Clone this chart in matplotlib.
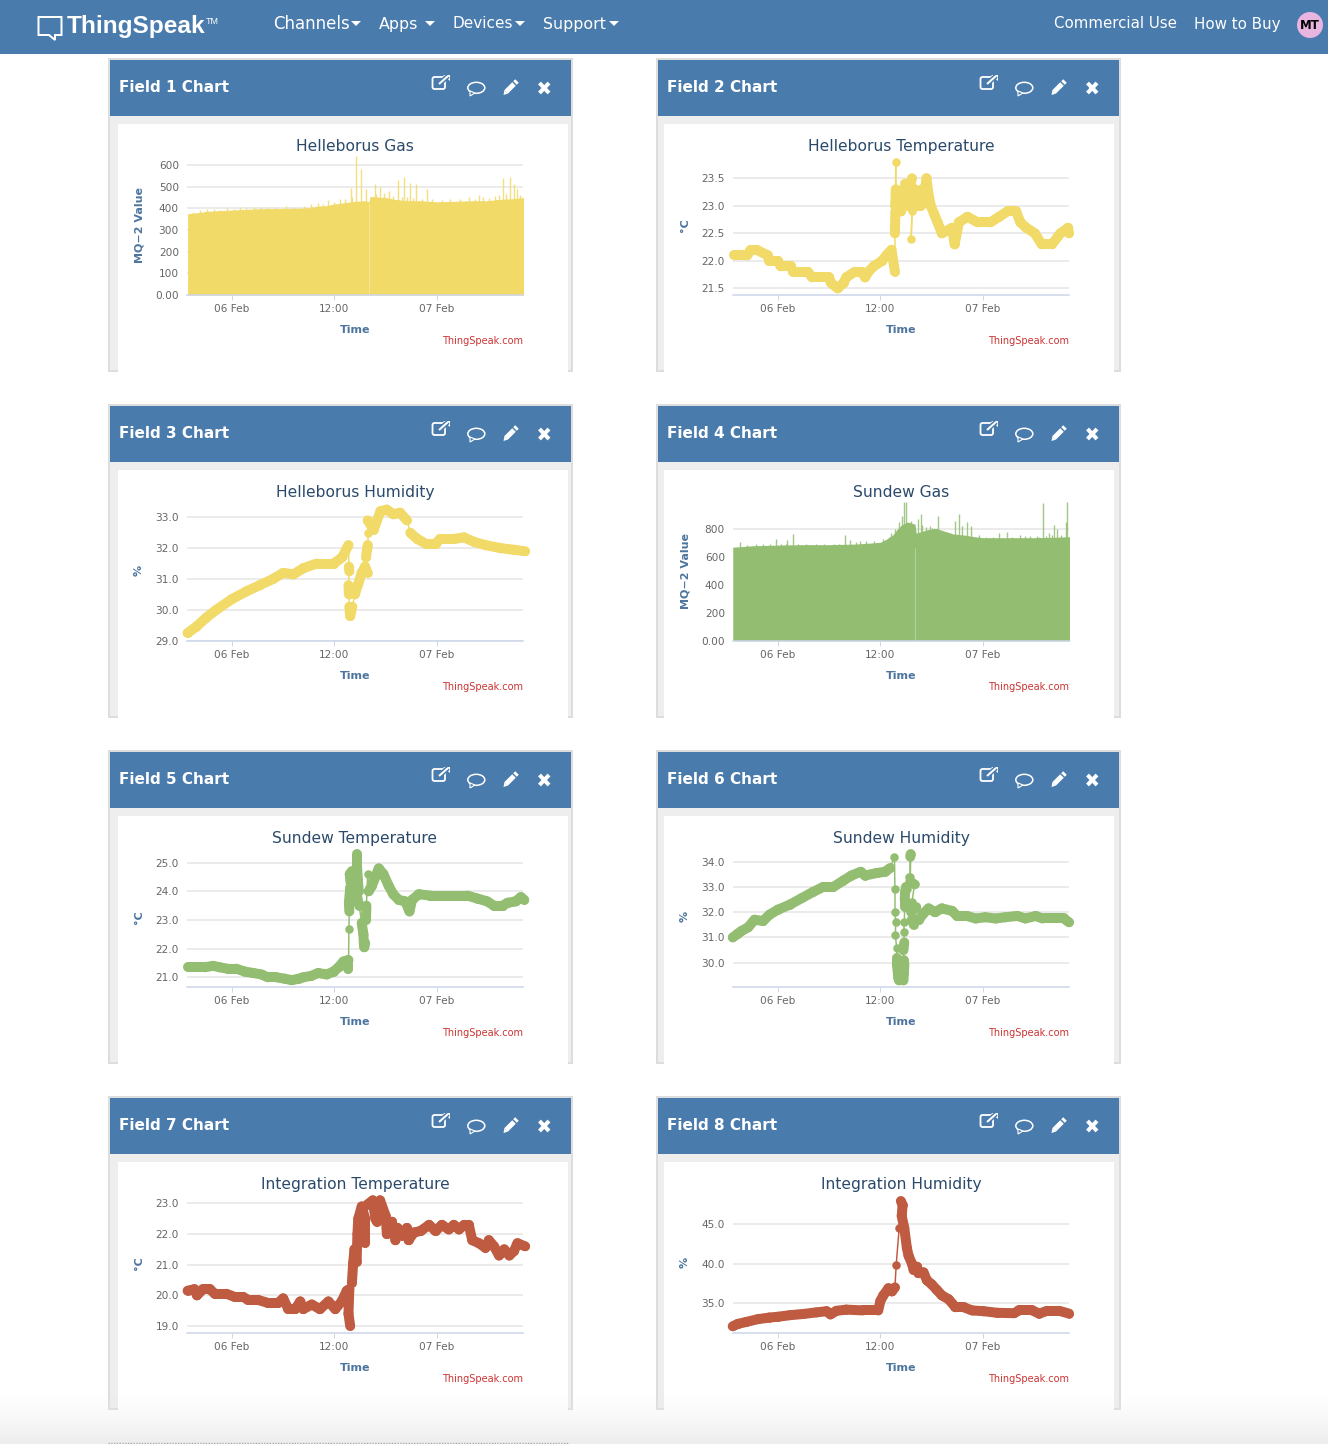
import numpy as np
import matplotlib
matplotlib.use('Agg')
import matplotlib.pyplot as plt
from matplotlib.collections import LineCollection
from matplotlib.patches import Rectangle, Ellipse, Polygon, Circle, FancyBboxPatch

# hours are counted from 06 Feb 00:00
tick_hours = [0, 12, 24]
tick_names = ['06 Feb', '12:00', '07 Feb']

# Field 1 - Helleborus Gas
f1_hours = [-5.2, -4, -3, -2, -1, 1, 3, 5, 7, 8, 9, 10, 11, 12, 13, 14, 14.5, 15.5, 16.05, 16.2, 17, 18, 19, 20, 21, 22, 24, 26, 28, 30, 31, 33, 34.3]
f1_vals = [375, 380, 386, 388, 390, 394, 398, 399, 400, 401, 403, 410, 412, 420, 425, 430, 432, 435, 430, 455, 452, 450, 442, 437, 435, 435, 430, 432, 435, 435, 440, 445, 450]
f1_spike_hours = [14.5, 15.1, 13.9, 15.7, 16.7, 17.4, 18.4, 19.5, 20.1, 20.9, 21.6, 22.9, 29, 31.7, 32.6, 33, 33.4,
                  -4.6, -3.7, -2.9, -2.1, -1.4, -0.6, 0.2, 0.9, 1.7, 2.6, 3.4, 4.2, 5.1, 6.3, 7.2, 8.4, 9.3, 10.1, 10.7, 11.2, 11.9, 12.6, 13.3, 14.1,
                  16.9, 17.8, 18.9, 19.9, 20.5, 21.2, 22.3, 23.4, 24.6, 25.6, 26.7, 27.8, 28.5, 29.4, 30.1, 30.8, 31.3, 32.1, 33.7, 34.1]
f1_spike_vals = [640, 580, 495, 490, 510, 500, 480, 530, 545, 515, 510, 490, 460, 540, 545, 510, 490,
                 385, 392, 395, 398, 392, 400, 398, 405, 400, 408, 405, 406, 408, 410, 406, 412, 418, 425, 418, 440, 428, 445, 442, 450,
                 465, 470, 458, 452, 450, 448, 445, 445, 440, 445, 442, 452, 445, 450, 448, 455, 460, 465, 462, 455]

# Field 2 - Helleborus Temperature
f2_hours = [-5.2, -3.6, -3.2, -2.5, -1.2, -1, 0, 0.3, 1.5, 1.8, 3.5, 4, 6, 6.2, 7, 7.7, 8, 9, 9.8, 10.2, 10.6, 11.2, 12.2, 12.7, 13.3, 13.7, 13.7, 13.75, 13.8, 13.8, 13.75, 14, 14.2, 14.4, 14.7, 14.9, 15, 15.2, 15.4, 15.7, 15.7, 15.6, 15.8, 16, 16.3, 16.5, 16.7, 16.9, 17.1, 17.4, 17.6, 17.9, 18.3, 18.7, 19.2, 20.4, 20.7, 21.2, 22.2, 23.4, 24.9, 25.9, 26.9, 27.9, 28.4, 29.1, 30.1, 30.9, 32.1, 33.1, 34, 34.1]
f2_vals = [22.1, 22.1, 22.2, 22.2, 22.1, 22.0, 22.0, 21.9, 21.9, 21.8, 21.8, 21.7, 21.7, 21.6, 21.5, 21.6, 21.7, 21.8, 21.8, 21.7, 21.8, 21.9, 22.0, 22.1, 22.2, 21.8, 22.5, 22.9, 23.8, 23.3, 23.0, 23.2, 23.0, 22.9, 23.2, 23.4, 23.1, 23.0, 23.3, 23.5, 22.9, 22.4, 23.1, 23.3, 23.0, 23.2, 23.0, 23.3, 23.1, 23.5, 23.25, 23.0, 22.85, 22.7, 22.5, 22.6, 22.3, 22.7, 22.8, 22.7, 22.7, 22.8, 22.9, 22.9, 22.7, 22.6, 22.5, 22.3, 22.3, 22.5, 22.6, 22.5]

# Field 3 - Helleborus Humidity
f3_hours = [-5.2, -4.2, -3, -1.85, 0, 1.7, 3.25, 4.8, 6, 7.2, 8.35, 9.9, 11.9, 12.9, 13.65, 13.7, 13.75, 13.65, 13.7, 13.75, 13.85, 14.1, 14.4, 14.8, 15.2, 15.6, 15.9, 15.7, 15.85, 15.9, 15.9, 15.9, 16.6, 17.4, 18.15, 18.9, 19.7, 20.5, 20.9, 21.7, 22.7, 23.85, 24.4, 26, 27.2, 28.4, 29.7, 31.5, 33, 34.35]
f3_vals = [29.25, 29.45, 29.75, 30.0, 30.35, 30.6, 30.8, 31.0, 31.2, 31.15, 31.35, 31.5, 31.5, 31.7, 32.1, 31.4, 31.25, 30.8, 30.5, 30.1, 29.8, 30.1, 30.5, 30.85, 31.2, 31.4, 31.2, 31.7, 32.0, 32.1, 32.5, 32.9, 32.6, 33.2, 33.25, 33.1, 33.15, 32.9, 32.5, 32.3, 32.15, 32.15, 32.3, 32.3, 32.35, 32.2, 32.1, 32.0, 31.95, 31.9]

# Field 4 - Sundew Gas
f4_hours = [-5.3, -4, -3, -1, 0, 3, 6, 9, 11, 12, 12.8, 13.5, 14, 14.5, 15.2, 16.05, 16.2, 17.5, 18.5, 19.5, 20.5, 22, 23, 24, 26, 28, 30, 32, 34.25]
f4_vals = [670, 675, 680, 683, 685, 688, 688, 692, 700, 705, 730, 760, 800, 830, 850, 835, 770, 795, 805, 785, 765, 755, 745, 738, 738, 738, 738, 740, 745]
f4_spike_hours = [-4.5, -0.2, 1.1, 1.8, 7.8, 8.4, 14.5, 14.8, 15, 13.7, 16.7, 16.4, 17.8, 18.8, 20.8, 21.2, 21.6, 22.2, 22.6, 25.9, 26.8, 31.1, 31.8, 32.4, 32.7, 33.7, 33.9,
                  -3.6, -2.6, -1.7, -0.9, 0.4, 0.9, 2.4, 3.3, 4.4, 5.4, 6.6, 7.1, 9.1, 9.6, 10.3, 11.2, 12.3, 13, 13.3, 14.2, 15.6,
                  16.9, 17.3, 18.1, 19, 20, 20.2, 23.5, 24.4, 25.2, 27.4, 28.3, 28.9, 29.5, 30.3, 30.6, 31.4, 32.1, 33.2]
f4_spike_vals = [710, 730, 720, 765, 755, 720, 890, 990, 990, 800, 910, 870, 820, 895, 855, 905, 825, 850, 820, 770, 780, 985, 775, 830, 800, 850, 990,
                 688, 690, 692, 690, 692, 693, 695, 692, 693, 695, 694, 696, 705, 712, 712, 716, 728, 745, 775, 850, 860,
                 830, 815, 810, 780, 775, 770, 755, 742, 744, 745, 755, 750, 750, 752, 745, 752, 760, 755]

# Field 5 - Sundew Temperature
f5_hours = [-5.2, -4.2, -3.2, -2.2, -1.45, -0.5, 0.5, 1.5, 2.5, 3.45, 4.2, 5.2, 6.2, 7, 7.8, 8.35, 9.3, 10.1, 11.1, 11.9, 12.5, 13.05, 13.65, 13.65, 13.7, 13.75, 13.7, 13.85, 13.85, 13.9, 13.8, 14.05, 14.4, 14.65, 14.65, 14.75, 14.85, 14.6, 14.9, 15.2, 15.4, 15.45, 15.5, 15.6, 15.7, 15.75, 15.9, 16, 16.4, 16.8, 17.2, 17.75, 18.35, 18.9, 19.55, 20.3, 20.8, 21.1, 21.9, 23.25, 24.45, 26, 27.6, 28.75, 29.9, 30.7, 31.7, 32.3, 33.25, 33.85, 34.25]
f5_vals = [21.35, 21.35, 21.35, 21.4, 21.35, 21.3, 21.3, 21.2, 21.15, 21.1, 21.0, 21.0, 20.95, 20.9, 20.95, 21.0, 21.05, 21.15, 21.1, 21.2, 21.35, 21.55, 21.6, 21.3, 22.7, 23.3, 23.6, 24.1, 23.7, 24.3, 24.6, 24.7, 24.6, 25.3, 24.9, 24.4, 24.0, 23.9, 23.5, 22.9, 22.5, 22.2, 22.05, 22.2, 23.0, 23.5, 24.6, 24.0, 24.2, 24.5, 24.8, 24.6, 24.2, 23.9, 23.7, 23.65, 23.3, 23.7, 23.9, 23.85, 23.85, 23.85, 23.85, 23.75, 23.65, 23.5, 23.5, 23.6, 23.65, 23.8, 23.7]

# Field 6 - Sundew Humidity
f6_hours = [-5.3, -4.7, -4.3, -3.5, -2.75, -1.75, -1, 0, 1.4, 2.75, 4.1, 5.3, 6.5, 7.65, 8.6, 9.7, 10.2, 11.55, 12.55, 13.15, 13.65, 13.7, 13.7, 13.8, 13.75, 13.9, 13.95, 13.95, 14.05, 14.1, 14.2, 14.3, 14.7, 14.75, 14.8, 14.75, 14.7, 14.8, 14.8, 14.8, 14.85, 14.85, 14.9, 15, 15.35, 15.15, 15.5, 15.5, 15.55, 15.5, 16, 15.7, 15.6, 16.2, 15.9, 15.7, 16.5, 17.05, 17.65, 18.4, 19.2, 20.4, 21, 22.15, 23.15, 24.3, 25.5, 26.65, 28.05, 29, 30.2, 31, 32.35, 33.5, 34.1]
f6_vals = [31.0, 31.15, 31.25, 31.4, 31.7, 31.65, 31.9, 32.1, 32.3, 32.55, 32.8, 33.0, 33.0, 33.25, 33.45, 33.6, 33.45, 33.55, 33.6, 33.75, 34.2, 32.9, 32.0, 31.6, 31.1, 30.6, 30.2, 29.9, 29.6, 29.4, 29.3, 29.3, 29.3, 29.6, 29.9, 30.1, 30.5, 30.8, 31.2, 31.6, 32.2, 32.5, 32.8, 33.0, 33.4, 32.9, 33.4, 34.2, 34.3, 33.2, 33.1, 32.4, 32.0, 32.2, 31.5, 31.7, 31.7, 31.95, 32.15, 32.0, 32.15, 32.05, 31.85, 31.85, 31.75, 31.8, 31.75, 31.8, 31.85, 31.75, 31.85, 31.75, 31.75, 31.75, 31.6]

# Field 7 - Integration Temperature
f7_hours = [-5.2, -4.4, -4.1, -3.4, -2.6, -2, -0.65, 0.3, 1.3, 1.9, 3.05, 4.25, 5.4, 6, 6.6, 7.4, 8, 8.35, 9.35, 10.3, 11.3, 12.1, 12.85, 13.45, 13.75, 13.65, 13.85, 14.05, 14.2, 14.35, 14.6, 14.7, 14.8, 15.2, 15.6, 15.6, 15.8, 16.5, 16.8, 17, 17.35, 18, 18.15, 18.75, 19.15, 19.4, 19.9, 20.5, 20.7, 21.3, 22.1, 23.1, 23.85, 24.6, 25.4, 26, 26.6, 27.2, 27.75, 28.15, 28.95, 29.7, 30.1, 30.7, 31.3, 31.9, 32.5, 33.05, 33.45, 34.35]
f7_vals = [20.15, 20.2, 20.0, 20.2, 20.2, 20.05, 20.05, 19.95, 19.95, 19.85, 19.85, 19.75, 19.75, 19.9, 19.55, 19.55, 19.8, 19.55, 19.7, 19.55, 19.8, 19.55, 19.8, 20.15, 20.2, 19.4, 19.0, 20.4, 21.05, 21.5, 21.1, 22.0, 22.5, 22.9, 22.5, 21.7, 22.95, 23.1, 22.5, 22.4, 23.1, 22.6, 22.0, 22.4, 21.8, 22.2, 21.95, 22.2, 21.8, 22.05, 22.1, 22.3, 22.1, 22.3, 22.15, 22.3, 22.15, 22.3, 22.3, 21.8, 21.7, 21.55, 21.8, 21.6, 21.3, 21.5, 21.3, 21.45, 21.7, 21.6]

# Field 8 - Integration Humidity
f8_hours = [-5.3, -4.7, -3.7, -2.35, -1, 0, 1.4, 2.95, 4.5, 5.7, 6.15, 6.85, 8, 9.95, 11.75, 12, 12.35, 12.95, 13.35, 13.7, 13.85, 14.2, 14.4, 14.6, 14.5, 14.8, 15.1, 15.3, 15.7, 15.9, 16.3, 16.45, 17.05, 17.45, 18, 18.6, 19.2, 20, 20.8, 21.75, 22.75, 24.1, 25.7, 27.65, 28.25, 29.8, 30.6, 31.55, 32.95, 34.1]
f8_vals = [32.1, 32.4, 32.65, 33.0, 33.2, 33.3, 33.5, 33.65, 33.85, 34.0, 33.6, 34.05, 34.2, 34.1, 34.1, 35.3, 36.0, 36.9, 36.5, 37.0, 39.8, 44.5, 47.9, 47.4, 46.0, 44.5, 42.0, 41.0, 40.0, 39.2, 39.6, 38.8, 38.9, 37.9, 37.4, 36.7, 36.0, 35.5, 34.5, 34.5, 34.1, 34.0, 33.8, 33.75, 34.1, 34.1, 33.7, 34.05, 34.05, 33.7]

gas_gap_hour = 16.1

YELLOW = '#f1da68'
GREEN = '#93be71'
RED = '#bf5b41'
BLUE = '#4a7bad'
TITLE_COL = '#2b4a6b'
AXIS_COL = '#4d759e'
GRID_COL = '#e6e6e6'
LINE_COL = '#ccd6eb'
TICK_COL = '#666666'

PX = 72 / 100  # points per pixel at dpi 100
W, H = 1328, 1444

fig = plt.figure(figsize=(W / 100, H / 100), dpi=100)
bg = fig.add_axes([0, 0, 1, 1])
bg.set_xlim(0, W)
bg.set_ylim(H, 0)
bg.axis('off')


def draw_navbar():
    bg.add_patch(Rectangle((0, 0), W, 54, color=BLUE, lw=0))
    bg.add_patch(Polygon([(38.5, 17), (61.5, 17), (61.5, 35), (55, 35), (55, 40), (49, 35), (38.5, 35)],
                         closed=True, fill=False, ec='white', lw=2 * PX))
    bg.text(67, 27, 'ThingSpeak', color='white', fontsize=17.6, fontweight='bold',
            family='Liberation Sans', va='center', ha='left')
    bg.text(206, 22, 'TM', color='white', fontsize=6.5, family='Liberation Sans', va='center', ha='left')
    for name, x, size, caret in [('Channels', 273, 12, 356), ('Apps', 379, 11.4, 430),
                                 ('Devices', 453, 11, 520), ('Support', 543, 11.4, 614)]:
        bg.text(x, 24, name, color='white', fontsize=size, va='center', ha='left')
        bg.add_patch(Polygon([(caret - 5, 21), (caret + 5, 21), (caret, 26)], color='white', lw=0))
    bg.text(1177, 24, 'Commercial Use', color='white', fontsize=10.8, va='center', ha='right')
    bg.text(1281, 24, 'How to Buy', color='white', fontsize=10.9, va='center', ha='right')
    bg.add_patch(Circle((1310, 25), 13, color='#e8b4e0', lw=0))
    bg.text(1310, 25.5, 'MT', color='black', fontsize=8.5, fontweight='bold', va='center', ha='center')


def draw_icons(dx, y0):
    # open in new window
    bg.add_patch(FancyBboxPatch((dx + 432.5, y0 + 19), 12.5, 12, boxstyle='round,pad=0,rounding_size=2',
                                fill=False, ec='white', lw=1.3))
    bg.plot([dx + 439, dx + 448], [y0 + 26, y0 + 18], color=BLUE, lw=5 * PX, solid_capstyle='butt')
    bg.plot([dx + 439, dx + 448], [y0 + 26, y0 + 18], color='white', lw=2 * PX, solid_capstyle='butt')
    bg.add_patch(Polygon([(dx + 443, y0 + 17), (dx + 449.5, y0 + 17), (dx + 449.5, y0 + 23)], color='white', lw=0))
    # comment bubble
    bg.add_patch(Ellipse((dx + 476.3, y0 + 29.8), 17, 11, fill=False, ec='white', lw=1.1))
    bg.add_patch(Polygon([(dx + 470, y0 + 33), (dx + 470, y0 + 38), (dx + 475, y0 + 35)], fc=BLUE, ec='white', lw=0.8))
    # pencil
    bg.plot([dx + 506, dx + 514], [y0 + 34, y0 + 26], color='white', lw=5 * PX, solid_capstyle='butt')
    bg.plot([dx + 515, dx + 517], [y0 + 25, y0 + 23], color='white', lw=5 * PX, solid_capstyle='butt')
    bg.add_patch(Polygon([(dx + 503.5, y0 + 37), (dx + 504.4, y0 + 32.2), (dx + 507.8, y0 + 35.6)], color='white', lw=0))
    # close
    bg.plot([dx + 539.5, dx + 549], [y0 + 25, y0 + 35], color='white', lw=4 * PX, solid_capstyle='butt')
    bg.plot([dx + 549, dx + 539.5], [y0 + 25, y0 + 35], color='white', lw=4 * PX, solid_capstyle='butt')


def draw_panel(dx, y0, field_name, white_x):
    bg.add_patch(Rectangle((dx + 108, y0), 465, 314, color='#dddddd', lw=0))
    bg.add_patch(Rectangle((dx + 110, y0 + 2), 461, 310, color='#eeeeee', lw=0))
    bg.add_patch(Rectangle((dx + 110, y0 + 2), 461, 56, color=BLUE, lw=0))
    bg.add_patch(Rectangle((white_x, y0 + 66), 450, 248, color='white', lw=0))
    bg.text(dx + 119, y0 + 29, field_name, color='white', fontsize=11, fontweight='bold', va='center', ha='left')
    draw_icons(dx, y0)


def new_chart(x0, y_top, y_bot, ylim, yticks, ylabels):
    ax = fig.add_axes([x0 / W, 1 - y_bot / H, 336 / W, (y_bot - y_top) / H])
    ax.patch.set_alpha(0)
    ax.set_xlim(-5.27, 34.1)
    ax.set_ylim(*ylim)
    ax.set_xticks(tick_hours)
    ax.set_xticklabels(tick_names)
    ax.set_yticks(yticks)
    ax.set_yticklabels(ylabels)
    ax.tick_params(axis='x', length=5 * PX, width=0.7, color=LINE_COL, labelsize=7.6, labelcolor=TICK_COL, pad=3.2)
    ax.tick_params(axis='y', length=0, labelsize=7.6, labelcolor=TICK_COL, pad=5.8)
    ax.grid(axis='y', color=GRID_COL, lw=1.1)
    ax.set_axisbelow(True)
    for side in ['top', 'left', 'right']:
        ax.spines[side].set_visible(False)
    ax.spines['bottom'].set_color(LINE_COL)
    ax.spines['bottom'].set_linewidth(1.1)
    return ax


def add_labels(x0, y_bot, title, ylabel):
    cx = x0 + 168
    bg.text(cx, y_bot - 148.6, title, color=TITLE_COL, fontsize=11.2, va='center', ha='center')
    bg.text(cx, y_bot + 35, 'Time', color=AXIS_COL, fontsize=8, fontweight='bold', va='center', ha='center')
    bg.text(x0 + 336, y_bot + 46, 'ThingSpeak.com', color='#cc3333', fontsize=7.0, va='center', ha='right')
    bg.text(x0 - 48, y_bot - 70, ylabel, color=AXIS_COL, fontsize=8, fontweight='bold',
            rotation=90, va='center', ha='center')


def gas_chart(x0, y_top, y_bot, ylim, yticks, ylabels, title, hours, vals, sp_hours, sp_vals, color):
    ax = new_chart(x0, y_top, y_bot, ylim, yticks, ylabels)
    ax.fill_between(hours, vals, 0, color=color, lw=0)
    ax.vlines(sp_hours, 0, sp_vals, color=color, lw=1.0, alpha=0.85)
    ax.vlines([gas_gap_hour], 0, [ylim[1] * 0.66], color='white', lw=0.8, alpha=0.3)
    add_labels(x0, y_bot, title, 'MQ\u22122 Value')


def line_chart(x0, y_top, y_bot, ylim, yticks, ylabels, title, ylabel, hours, vals, color, thin_px):
    ax = new_chart(x0, y_top, y_bot, ylim, yticks, ylabels)
    pts = ax.transData.transform(np.column_stack([hours, vals]))
    steps = np.abs(np.diff(pts, axis=0))
    # long vertical jumps stay as thin joins, everything else looks like overlapping dots
    widths = np.where((steps[:, 1] > thin_px) & (steps[:, 0] < 5), 1.5, 10) * PX
    xy = np.column_stack([hours, vals])
    segs = np.stack([xy[:-1], xy[1:]], axis=1)
    ax.add_collection(LineCollection(segs, linewidths=widths, colors=color, capstyle='round', clip_on=False, zorder=3))
    ax.plot(hours, vals, ls='none', marker='o', ms=8.5 * PX, mfc=color, mec=color, mew=0, clip_on=False, zorder=3)
    add_labels(x0, y_bot, title, ylabel)


draw_navbar()
for i, y0 in enumerate([58, 404, 750, 1096]):
    draw_panel(0, y0, f'Field {2 * i + 1} Chart', 118)
    draw_panel(548, y0, f'Field {2 * i + 2} Chart', 664)

gas_chart(187, 155, 295, (0, 646), [0, 100, 200, 300, 400, 500, 600],
          ['0.00', '100', '200', '300', '400', '500', '600'], 'Helleborus Gas',
          f1_hours, f1_vals, f1_spike_hours, f1_spike_vals, YELLOW)
line_chart(733, 155, 294.7, (21.384, 23.924), [21.5, 22, 22.5, 23, 23.5],
           ['21.5', '22.0', '22.5', '23.0', '23.5'], 'Helleborus Temperature', '\u00b0C',
           f2_hours, f2_vals, YELLOW, 24)
line_chart(187, 501, 640.7, (29, 33.53), [29, 30, 31, 32, 33],
           ['29.0', '30.0', '31.0', '32.0', '33.0'], 'Helleborus Humidity', '%',
           f3_hours, f3_vals, YELLOW, 11)
gas_chart(733, 501, 640.7, (0, 1000.7), [0, 200, 400, 600, 800],
          ['0.00', '200', '400', '600', '800'], 'Sundew Gas',
          f4_hours, f4_vals, f4_spike_hours, f4_spike_vals, GREEN)
line_chart(187, 847, 986.7, (20.672, 25.548), [21, 22, 23, 24, 25],
           ['21.0', '22.0', '23.0', '24.0', '25.0'], 'Sundew Temperature', '\u00b0C',
           f5_hours, f5_vals, GREEN, 15)
line_chart(733, 847, 986.7, (29.05, 34.58), [30, 31, 32, 33, 34],
           ['30.0', '31.0', '32.0', '33.0', '34.0'], 'Sundew Humidity', '%',
           f6_hours, f6_vals, GREEN, 9)
line_chart(187, 1193, 1332.7, (18.78, 23.34), [19, 20, 21, 22, 23],
           ['19.0', '20.0', '21.0', '22.0', '23.0'], 'Integration Temperature', '\u00b0C',
           f7_hours, f7_vals, RED, 30)
line_chart(733, 1193, 1332.7, (31.29, 48.91), [35, 40, 45],
           ['35.0', '40.0', '45.0'], 'Integration Humidity', '%',
           f8_hours, f8_vals, RED, 20)

# page fade and dotted rule at the very bottom
top = fig.add_axes([0, 0, 1, 1], zorder=10)
top.set_xlim(0, W)
top.set_ylim(H, 0)
top.axis('off')
fade = np.zeros((50, 1, 4))
fade[:, 0, :3] = 0.93
fade[:, 0, 3] = np.linspace(0, 1, 50) ** 1.3
top.imshow(fade, extent=[0, W, 1444, 1394], aspect='auto', interpolation='bilinear')
top.set_xlim(0, W)
top.set_ylim(H, 0)
top.plot([108, 568], [1442.8, 1442.8], color='#aaaaaa', lw=1.0, ls=(0, (1, 1)))

fig.savefig('out.png', dpi=100)
plt.close(fig)
